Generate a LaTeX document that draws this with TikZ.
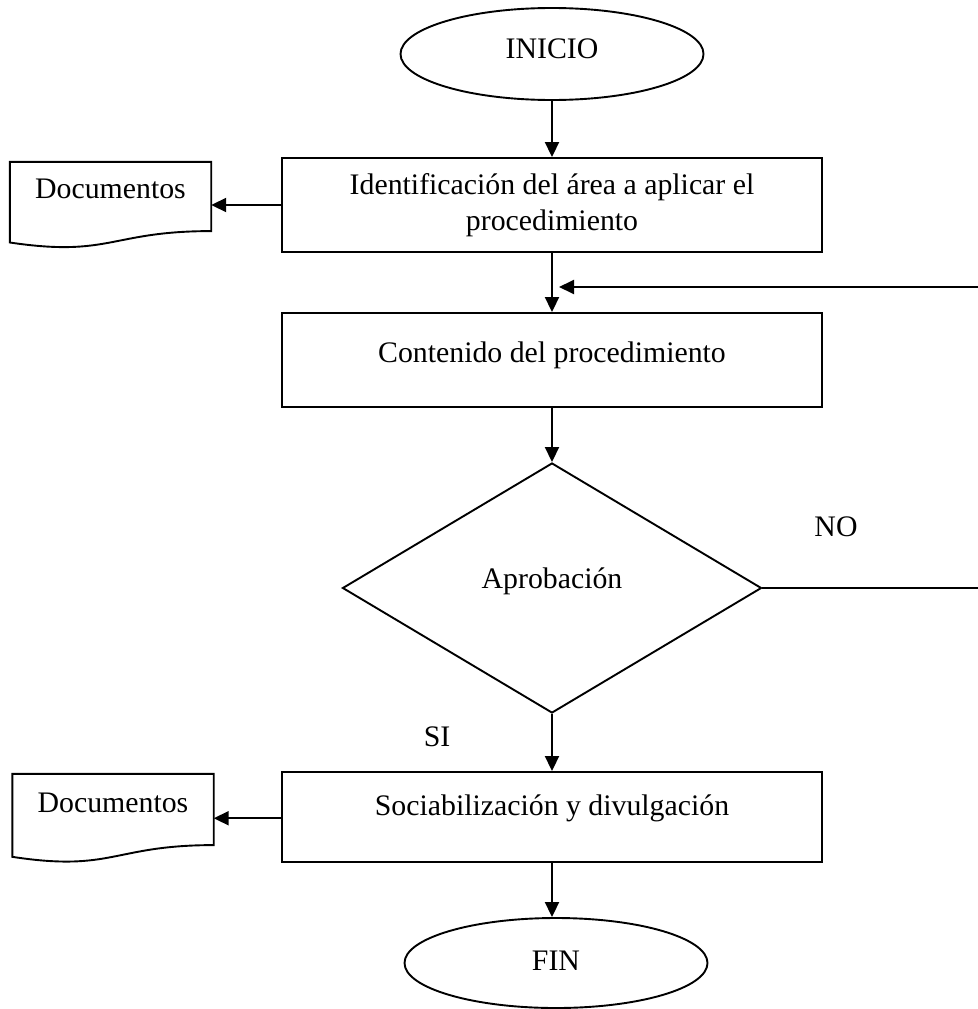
\documentclass[tikz,border=0pt]{standalone}
\usepackage{fontspec}
\setmainfont{Liberation Serif}
\usetikzlibrary{shapes.geometric,arrows.meta,calc}

% Flowchart document symbol: flat top, wavy bottom edge
\newcommand{\drawdocshape}[1]{%
  \draw[outline] (#1.north west) -- (#1.north east)
    -- ($(#1.north east)!0.802!(#1.south east)$)
    .. controls ($(#1.north)!0.802!(#1.south)$) and ($(#1.north)!1.1075!(#1.south)$)
    .. ($(#1.north west)!0.934!(#1.south west)$) -- cycle;}

\begin{document}
\begin{tikzpicture}[x=1pt,y=-1pt,
  font=\fontsize{29.8}{35.5}\selectfont,
  outline/.style={draw=black,line width=1.9pt},
  terminal/.style={outline,ellipse,minimum width=303pt,minimum height=92pt,inner sep=0pt},
  process/.style={outline,rectangle,minimum width=540pt,inner sep=0pt,align=center},
  decision/.style={outline,diamond,aspect=1.676,minimum width=419pt,minimum height=250pt,inner sep=0pt,text depth=20pt},
  docbox/.style={rectangle,draw=none,minimum width=201pt,inner sep=0pt},
  tag/.style={inner sep=0pt},
  arr/.style={line width=1.9pt,-{Triangle[length=15pt,width=14pt]}},
  link/.style={line width=1.9pt}]
\useasboundingbox (0,0) rectangle (977,1009);

% main column
\node[terminal,text depth=11.5pt] (inicio) at (552,54) {INICIO};
\node[process,minimum height=94pt] (ident) at (552,205) {Identificación del área a aplicar el\\procedimiento};
\node[process,minimum height=94pt,text depth=16pt] (cont) at (552,360) {Contenido del procedimiento};
\node[decision] (aprob) at (552,588) {Aprobación};
\node[process,minimum height=90pt,text depth=24pt] (soc) at (552,817) {Sociabilización y divulgación};
\node[terminal,minimum height=90pt,text depth=5.5pt] (fin) at (556,963) {FIN};

% document outputs
\node[docbox,minimum height=86pt,text depth=33.5pt] (doc1) at (110.5,205) {Documentos};
\node[docbox,minimum height=88.5pt,text depth=31.5pt] (doc2) at (113,818.25) {Documentos};
\drawdocshape{doc1}
\drawdocshape{doc2}

% branch labels
\node[tag] (no) at (836,527) {NO};
\node[tag] (si) at (437,737) {SI};

% connectors
\draw[arr] (inicio) -- (ident);
\draw[arr] (ident) -- (cont);
\draw[arr] (cont) -- (aprob);
\draw[arr] (aprob) -- (soc);
\draw[arr] (soc.south) -- (soc.south |- fin.north);
\draw[arr] (ident.west |- doc1.east) -- (doc1.east);
\draw[arr] (soc.west |- doc2.east) -- (doc2.east);

% rejection loop back to the content step
\coordinate (turn) at (990,588);
\coordinate (back) at (559,287);
\draw[arr] (aprob.east) -- (turn) |- (back);
\end{tikzpicture}
\end{document}
